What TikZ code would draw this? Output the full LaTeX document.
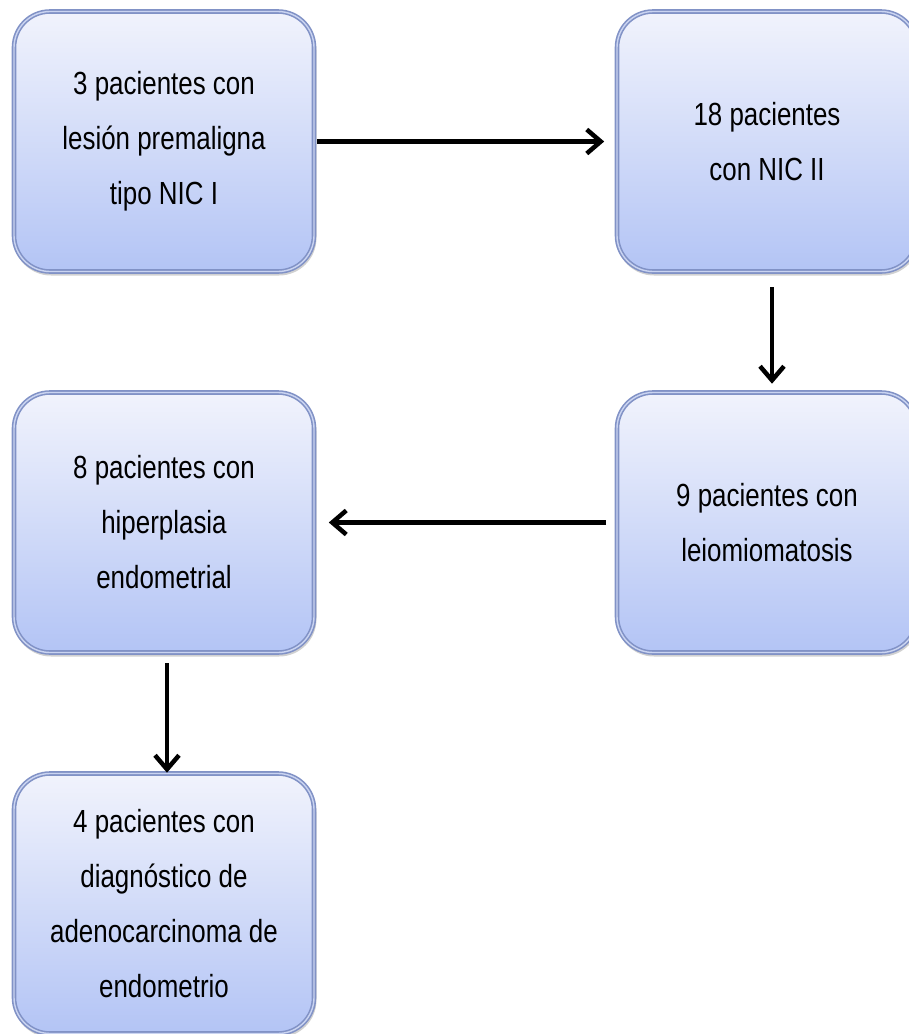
\documentclass[tikz,border=0pt]{standalone}
\usepackage{fontspec}
\setmainfont[FakeStretch=0.81]{Liberation Sans}
\usetikzlibrary{arrows.meta}
\definecolor{borda}{HTML}{8192C6}
\definecolor{brilho}{HTML}{CAD4F1}
\definecolor{topo}{HTML}{F1F3FC}
\definecolor{base}{HTML}{B3C4F5}
\begin{document}
\begin{tikzpicture}[x=1pt,y=1pt]
\tikzstyle{caixa}=[rectangle, rounded corners=36pt, minimum width=300pt, minimum height=260pt, top color=topo, bottom color=base, draw=borda, line width=1.6pt, double=brilho, double distance=1.4pt, align=center, font=\fontsize{32}{55}\selectfont, inner sep=0, preaction={draw=black!18, line width=3pt, transform canvas={xshift=1pt,yshift=-2.5pt}}]
\tikzstyle{seta}=[line width=4.5pt, -{Straight Barb[length=14pt,width=24pt,line width=4.5pt]}]
\useasboundingbox (0,0) rectangle (909,-1034);
\clip (0,0) rectangle (909,-1034);
\node[caixa] (nic1) at (164,-141.5) {3 pacientes con\\lesión premaligna\\tipo NIC I};
\node[caixa] (nic2) at (767,-141.5) {18 pacientes\\con NIC II};
\node[caixa] (leio) at (767,-522.5) {9 pacientes con\\leiomiomatosis};
\node[caixa] (hiper) at (164,-522.5) {8 pacientes con\\hiperplasia\\endometrial};
\node[caixa] (adeno) at (164,-903.5) {4 pacientes con\\diagnóstico de\\adenocarcinoma de\\endometrio};
\draw[seta, shorten <=2pt, shorten >=12pt](nic1.east)--(nic2.west);
\draw[seta, shorten <=15pt, shorten >=8pt]([xshift=5pt]nic2.south)--([xshift=5pt]leio.north);
\draw[seta, shorten <=10pt, shorten >=14pt](leio.west)--(hiper.east);
\draw[seta, shorten <=10pt, shorten >=0pt]([xshift=3pt]hiper.south)--([xshift=3pt]adeno.north);
\end{tikzpicture}
\end{document}
